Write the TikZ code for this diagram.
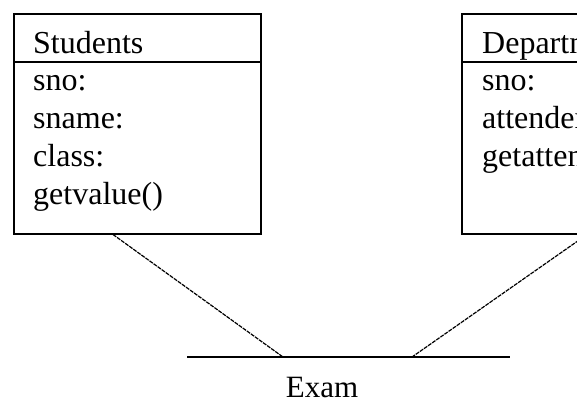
\documentclass[tikz,border=0pt]{standalone}
\usepackage{fontspec}
\setmainfont{Liberation Serif}
\usetikzlibrary{positioning,calc}

\begin{document}
\begin{tikzpicture}[
    x=1pt, y=-1pt,
    classbox/.style={draw, line width=1.5pt, minimum width=247pt, minimum height=220pt, anchor=north west, inner sep=0pt},
    member/.style={anchor=base west, inner sep=0pt, font=\fontsize{32}{38}\selectfont},
    link/.style={line width=1.2pt, dash pattern=on 4pt off 1pt}
]
\clip (0,0) rectangle (577,402);

% class boxes
\node[classbox] (students) at (13,13) {};
\node[classbox] (depts) at (461,13) {};
\draw[line width=1.3pt] ($(students.north west)+(0,49)$) -- ($(students.north east)+(0,49)$);
\draw[line width=1.3pt] ($(depts.north west)+(0,49)$) -- ($(depts.north east)+(0,49)$);

% students members
\node[member] (sname) at (33,53) {Students};
\node[member] (ssno) at (33,90) {sno:};
\node[member] (ssname) at (33,128) {sname:};
\node[member] (sclass) at (33,166) {class:};
\node[member] (sget) at (33,204) {getvalue()};

% departments members
\node[member] (dname) at (482,53) {Departments};
\node[member] (dsno) at (482,90) {sno:};
\node[member] (datt) at (482,128) {attendence:};
\node[member] (dget) at (482,166) {getattendence()};

% exam
\coordinate (examstart) at (187,357);
\coordinate (examend) at (510,357);
\coordinate (examL) at (283,357);
\coordinate (examR) at (412,357);
\draw[line width=1.3pt] (examstart) -- (examend);
\node[member, anchor=base, font=\fontsize{31}{36}\selectfont] (exam) at (322,397) {Exam};

\draw[link] ($(students.south west)+(100,0)$) -- (examL);
\draw[link] ($(depts.south west)+(126,0)$) -- (examR);

\end{tikzpicture}
\end{document}
